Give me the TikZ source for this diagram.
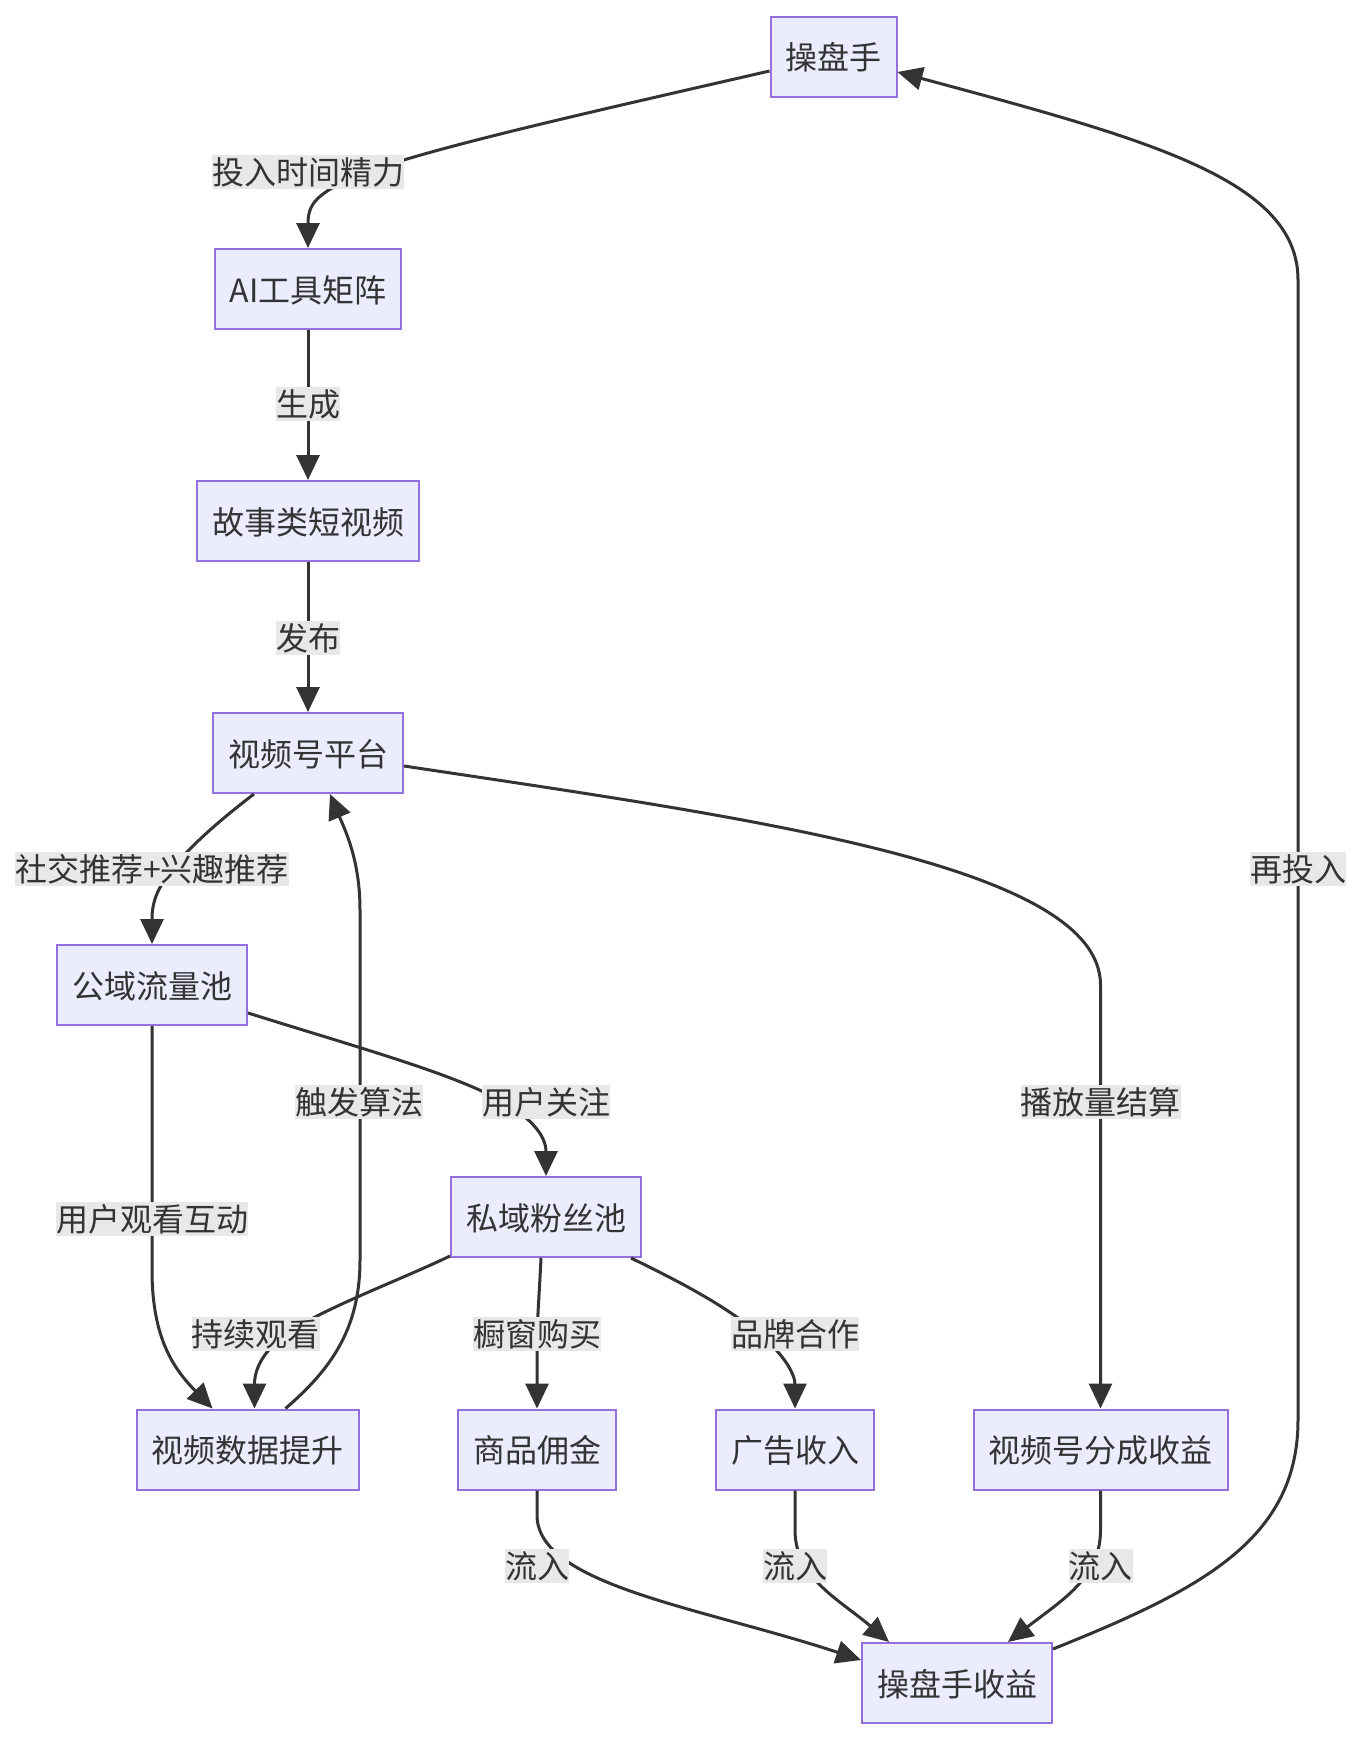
\documentclass[tikz,border=0pt]{standalone}
\usepackage{fontspec}
\setmainfont{Noto Sans CJK SC}
\usetikzlibrary{arrows.meta}
\definecolor{nodefill}{HTML}{ECECFF}
\definecolor{nodeline}{HTML}{9370DB}
\definecolor{edgecol}{HTML}{333333}
\definecolor{lblbg}{HTML}{E8E8E8}
\definecolor{txtcol}{HTML}{333333}
\tikzset{
  box/.style={draw=nodeline, fill=nodefill, line width=2pt, minimum height=80pt,
    inner xsep=15pt, text height=30pt, text depth=4pt, text=txtcol,
    font=\fontsize{32pt}{38pt}\selectfont},
  lbl/.style={fill=lblbg, inner xsep=0pt, inner ysep=0pt, text height=29.5pt, text depth=4.5pt,
    text=txtcol, font=\fontsize{32pt}{38pt}\selectfont},
  edge/.style={draw=edgecol, line width=3pt, -{Triangle[length=25pt,width=23pt]}}
}
\begin{document}
\begin{tikzpicture}[x=1pt,y=1pt]
\useasboundingbox (0,0) rectangle (1364,-1742);
\fill[white] (0,0) rectangle (1364,-1742);
% nodes
\node[box] (op) at (833.5,-57) {操盘手};
\node[box] (ai) at (308,-289) {AI工具矩阵};
\node[box] (story) at (308,-521) {故事类短视频};
\node[box] (plat) at (308,-753) {视频号平台};
\node[box] (pub) at (152,-985) {公域流量池};
\node[box] (priv) at (546,-1217) {私域粉丝池};
\node[box] (data) at (247.5,-1449.5) {视频数据提升};
\node[box] (goods) at (537,-1449.5) {商品佣金};
\node[box] (ad) at (795,-1449.5) {广告收入};
\node[box] (share) at (1100.5,-1449.5) {视频号分成收益};
\node[box] (inc) at (957,-1683) {操盘手收益};
% edges
\draw[edge] ([yshift=-14pt]op.west) .. controls (600,-110) and (420,-150) .. (360,-175) .. controls (315,-193) and (308,-205) .. (ai.north);
\draw[edge] (ai.south) -- (story.north);
\draw[edge] (story.south) -- (plat.north);
\draw[edge] ([xshift=-54pt]plat.south) .. controls (220,-820) and (185,-850) .. (168,-875) .. controls (155,-893) and (152,-905) .. (pub.north);
\draw[edge] (pub.south) -- (152,-1270) .. controls (152,-1340) and (175,-1370) .. ([xshift=-35pt]data.north);
\draw[edge] ([xshift=38pt]data.north) .. controls (330,-1370) and (360,-1330) .. (360,-1260) -- (360,-910) .. controls (360,-860) and (345,-830) .. ([xshift=22pt]plat.south);
\draw[edge] ([yshift=-28pt]pub.east) .. controls (350,-1045) and (440,-1070) .. (490,-1095) .. controls (530,-1115) and (546,-1135) .. (priv.north);
\draw[edge] ([yshift=-13pt]plat.east) .. controls (750,-818) and (1100.5,-865) .. (1100.5,-985) -- (share.north);
\draw[edge] (share.south) -- (1100.5,-1530) .. controls (1100.5,-1578) and (1062,-1600) .. ([xshift=51pt]inc.north);
\draw[edge] (ad.south) -- (795,-1530) .. controls (795,-1578) and (840,-1600) .. ([xshift=-68pt]inc.north);
\draw[edge] (goods.south) -- (537,-1515) .. controls (537,-1585) and (700,-1607) .. ([yshift=23pt]inc.west);
\draw[edge] ([yshift=34pt]inc.east) .. controls (1200,-1590) and (1298,-1540) .. (1298,-1420) -- (1298,-280) .. controls (1298,-180) and (1150,-140) .. ([yshift=-15pt]op.east);
\draw[edge] ([yshift=-39pt]priv.west) .. controls (400,-1280) and (332,-1305) .. (292,-1330) .. controls (262,-1350) and (254.5,-1370) .. ([xshift=7pt]data.north);
\draw[edge] ([xshift=-5pt]priv.south) .. controls (539,-1300) and (537,-1320) .. (537,-1350) -- (goods.north);
\draw[edge] ([xshift=85pt]priv.south) .. controls (680,-1282) and (725,-1305) .. (760,-1335) .. controls (785,-1355) and (795,-1375) .. (ad.north);
% labels
\node[lbl] (l1) at (308,-172) {投入时间精力};
\node[lbl] (l2) at (308,-404) {生成};
\node[lbl] (l3) at (308,-637.5) {发布};
\node[lbl] (l4) at (152,-868.5) {社交推荐+兴趣推荐};
\node[lbl] (l5) at (359,-1102) {触发算法};
\node[lbl] (l6) at (546,-1102) {用户关注};
\node[lbl] (l7) at (1100.5,-1102) {播放量结算};
\node[lbl] (l8) at (1298,-868.5) {再投入};
\node[lbl] (l9) at (152,-1218.5) {用户观看互动};
\node[lbl] (l10) at (255.5,-1334) {持续观看};
\node[lbl] (l11) at (537,-1334) {橱窗购买};
\node[lbl] (l12) at (795,-1334) {品牌合作};
\node[lbl] (l13) at (537,-1566) {流入};
\node[lbl] (l14) at (795,-1566) {流入};
\node[lbl] (l15) at (1100.5,-1566) {流入};
\end{tikzpicture}
\end{document}
